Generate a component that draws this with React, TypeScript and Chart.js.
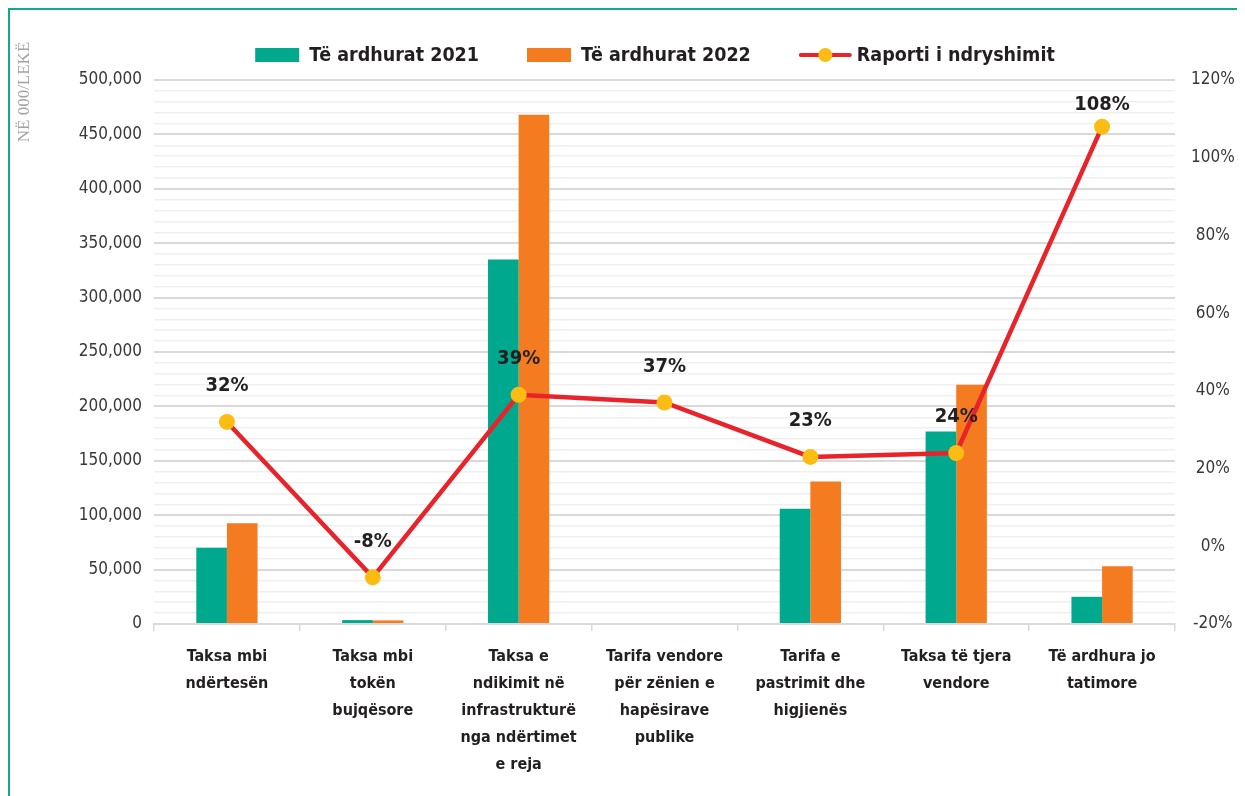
import React, { useEffect, useRef } from 'react';
import { Chart, registerables } from 'chart.js';

Chart.register(...registerables);

const categories: string[][] = [
  ['Taksa mbi', 'ndërtesën'],
  ['Taksa mbi', 'tokën', 'bujqësore'],
  ['Taksa e', 'ndikimit në', 'infrastrukturë', 'nga ndërtimet', 'e reja'],
  ['Tarifa vendore', 'për zënien e', 'hapësirave', 'publike'],
  ['Tarifa e', 'pastrimit dhe', 'higjienës'],
  ['Taksa të tjera', 'vendore'],
  ['Të ardhura jo', 'tatimore'],
];
const revenue2021 = [70000, 3600, 335000, 0, 106000, 177000, 25000];
const revenue2022 = [92500, 3300, 468000, 0, 131000, 220000, 53000];
const changeRatio = [32, -8, 39, 37, 23, 24, 108];
const seriesLabels = ['Të ardhurat 2021', 'Të ardhurat 2022', 'Raporti i ndryshimit'];
const yAxisTitle = 'NË 000/LEKË';

const TEAL = '#00a88e';
const ORANGE = '#f47b20';
const RED = '#e8232a';
const YELLOW = '#fbbd13';
const FRAME = '#14a88c';
const TEXT = '#231f20';
const NARROW = "'Liberation Sans Narrow', 'DejaVu Sans Condensed', 'Arial Narrow', sans-serif";

const overlayPlugin = {
  id: 'overlay',
  afterDatasetsDraw(chart: any) {
    const ctx = chart.ctx;
    const meta = chart.getDatasetMeta(2);
    ctx.save();
    ctx.font = `bold 20px ${NARROW}`;
    ctx.fillStyle = TEXT;
    ctx.textAlign = 'center';
    ctx.textBaseline = 'middle';
    meta.data.forEach((pt: any, i: number) => {
      const y = Math.max(pt.y - 36, chart.chartArea.top + 25);
      ctx.fillText(changeRatio[i] + '%', pt.x, y);
    });
    ctx.restore();
  },
  afterDraw(chart: any) {
    const ctx = chart.ctx;
    ctx.save();
    // legend
    ctx.font = `bold 19.5px ${NARROW}`;
    ctx.textBaseline = 'middle';
    ctx.textAlign = 'left';
    const cy = 45;
    const boxW = 44;
    const lineW = 53;
    const gapIcon = 10;
    const gapItem = 48;
    const ds = chart.data.datasets;
    const widths = ds.map((d: any) => ctx.measureText(d.label).width);
    let total = 0;
    ds.forEach((d: any, i: number) => {
      total += (d.type === 'line' ? lineW + 5 : boxW + gapIcon) + widths[i];
      if (i < ds.length - 1) total += gapItem;
    });
    let x = 645 - total / 2;
    ds.forEach((d: any, i: number) => {
      if (d.type === 'line') {
        ctx.strokeStyle = RED;
        ctx.lineWidth = 4;
        ctx.lineCap = 'round';
        ctx.beginPath();
        ctx.moveTo(x + 2, cy);
        ctx.lineTo(x + lineW - 2, cy);
        ctx.stroke();
        ctx.fillStyle = YELLOW;
        ctx.beginPath();
        ctx.arc(x + lineW / 2, cy, 7, 0, Math.PI * 2);
        ctx.fill();
        x += lineW + 5;
      } else {
        ctx.fillStyle = d.backgroundColor;
        ctx.fillRect(x, cy - 7, boxW, 14);
        x += boxW + gapIcon;
      }
      ctx.fillStyle = TEXT;
      ctx.fillText(d.label, x, cy + 1);
      x += widths[i] + gapItem;
    });
    // y-axis title
    ctx.translate(15, 82);
    ctx.rotate(-Math.PI / 2);
    ctx.font = "17px 'Liberation Serif', 'DejaVu Serif', serif";
    ctx.fillStyle = '#a3a3a3';
    ctx.textAlign = 'center';
    ctx.textBaseline = 'middle';
    ctx.fillText(yAxisTitle, 0, 0);
    ctx.restore();
  },
};

export default function App() {
  const canvasRef = useRef<HTMLCanvasElement | null>(null);

  useEffect(() => {
    if (!canvasRef.current) return;
    const chart = new Chart(canvasRef.current, {
      type: 'bar',
      data: {
        labels: categories,
        datasets: [
          {
            type: 'bar',
            label: seriesLabels[0],
            data: revenue2021,
            backgroundColor: TEAL,
            yAxisID: 'y',
            order: 1,
            barPercentage: 1,
            categoryPercentage: 0.42,
          },
          {
            type: 'bar',
            label: seriesLabels[1],
            data: revenue2022,
            backgroundColor: ORANGE,
            yAxisID: 'y',
            order: 1,
            barPercentage: 1,
            categoryPercentage: 0.42,
          },
          {
            type: 'line',
            label: seriesLabels[2],
            data: changeRatio,
            yAxisID: 'y1',
            borderColor: RED,
            borderWidth: 4.5,
            pointRadius: 8,
            pointHoverRadius: 8,
            pointBackgroundColor: YELLOW,
            pointBorderWidth: 0,
            tension: 0,
            order: 0,
          } as any,
        ],
      },
      options: {
        animation: false,
        responsive: true,
        maintainAspectRatio: false,
        layout: { padding: { top: 70, left: 0, right: 0, bottom: 0 } },
        plugins: {
          legend: { display: false },
          tooltip: { enabled: false },
        },
        scales: {
          x: {
            grid: {
              offset: true,
              drawOnChartArea: false,
              drawTicks: true,
              tickLength: 7,
              color: '#d9d9d9',
              lineWidth: 1.5,
            },
            border: { display: true, color: '#d9d9d9', width: 2 },
            ticks: {
              color: TEXT,
              font: { family: NARROW, size: 16, weight: 'bold', lineHeight: 1.69 },
              padding: 12,
              maxRotation: 0,
              autoSkip: false,
            },
            afterFit: (s: any) => {
              s.height = 172;
            },
          },
          y: {
            position: 'left',
            min: 0,
            max: 500000,
            ticks: {
              stepSize: 10000,
              autoSkip: false,
              color: '#383838',
              font: { family: NARROW, size: 17 },
              padding: 12,
              callback: (v: any) => (Number(v) % 50000 === 0 ? Number(v).toLocaleString('en-US') : ''),
            },
            grid: {
              drawTicks: false,
              color: (c: any) => (c.tick && c.tick.value % 50000 === 0 ? '#d9d9d9' : '#efefef'),
              lineWidth: (c: any) => (c.tick && c.tick.value % 50000 === 0 ? 2 : 1.5),
            },
            border: { display: false },
            afterFit: (s: any) => {
              s.width = 144;
            },
          },
          y1: {
            position: 'right',
            min: -20,
            max: 120,
            ticks: {
              stepSize: 20,
              color: '#383838',
              font: { family: NARROW, size: 17 },
              padding: 16,
              crossAlign: 'center',
              callback: (v: any) => v + '%',
            },
            grid: { display: false, drawTicks: false, drawOnChartArea: false },
            border: { display: false },
            afterFit: (s: any) => {
              s.width = 70;
            },
          },
        },
      },
      plugins: [overlayPlugin],
    });
    return () => chart.destroy();
  }, []);

  return (
    <div
      style={{
        width: 1235,
        height: 786,
        borderLeft: `2px solid ${FRAME}`,
        borderTop: `2px solid ${FRAME}`,
        position: 'relative',
        background: '#ffffff',
      }}
    >
      <canvas ref={canvasRef} />
    </div>
  );
}
